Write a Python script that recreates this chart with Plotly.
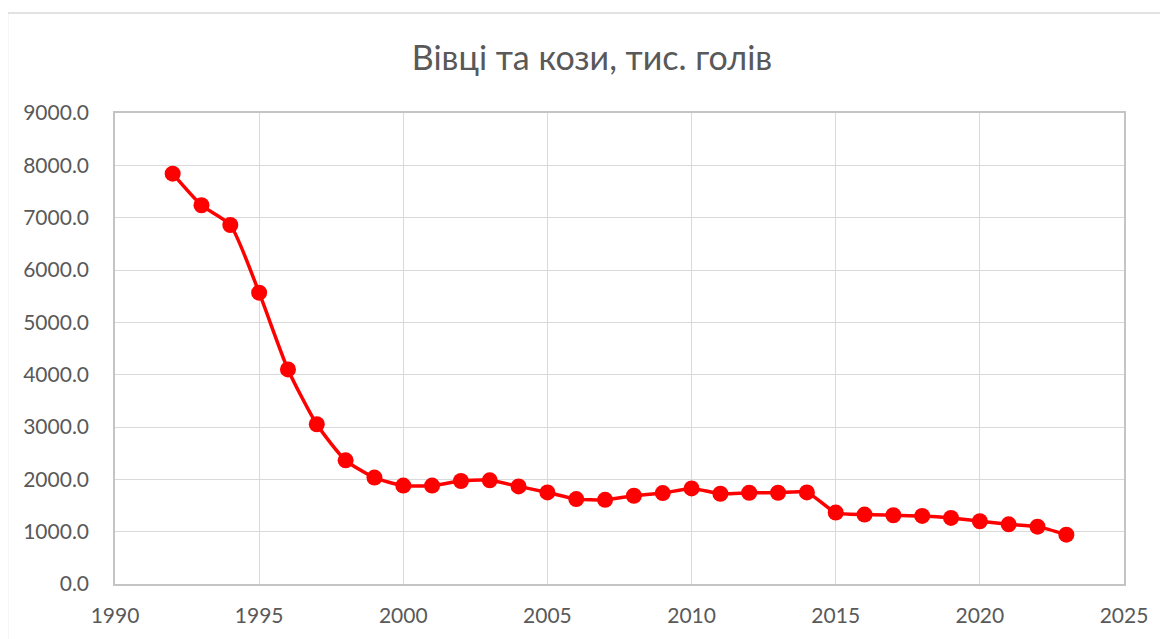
import plotly.graph_objects as go

years = list(range(1992, 2024))
values = [7840, 7237, 6860, 5566, 4100, 3052, 2363, 2033, 1880, 1880,
          1968, 1981, 1865, 1750, 1622, 1609, 1686, 1737, 1827, 1724,
          1744, 1744, 1750, 1365, 1327, 1314, 1301, 1263, 1199, 1141,
          1096, 942]
title_text = "Вівці та кози, тис. голів"

OFF = 8  # default page body margin
W, H = 1168 - OFF, 639 - OFF
L, R, T, B = 115 - OFF, 1124 - OFF, 113 - OFF, 584 - OFF

fig = go.Figure()
fig.add_trace(go.Scatter(
    x=years, y=values, mode="lines+markers",
    line=dict(color="#ff0000", width=3.5, shape="spline", smoothing=0.6),
    marker=dict(color="#ff0000", size=16),
    showlegend=False, hoverinfo="x+y",
))

font_family = "Lato, 'Open Sans', sans-serif"
pw, ph = R - L, B - T

fig.update_layout(
    width=W, height=H,
    margin=dict(l=L, r=W - R, t=T, b=H - B),
    paper_bgcolor="white", plot_bgcolor="white",
    title=dict(text=title_text, x=(592 - OFF) / W, xanchor="center",
               y=1 - (58 - OFF) / H, yanchor="middle",
               xref="container", yref="container",
               font=dict(family=font_family, size=34, color="#595959")),
    xaxis=dict(range=[1990, 2025], dtick=5, tick0=1990,
               showgrid=True, gridcolor="#d9d9d9", gridwidth=1.3,
               showline=True, linecolor="#c4c4c4", linewidth=1.5, mirror=True,
               zeroline=False, ticks="", ticklabelstandoff=12,
               tickfont=dict(family=font_family, size=21, color="#595959")),
    yaxis=dict(range=[0, 9000], dtick=1000, tickformat=".1f",
               showgrid=True, gridcolor="#d9d9d9", gridwidth=1.3,
               showline=True, linecolor="#c4c4c4", linewidth=1.5, mirror=True,
               zeroline=False, ticks="", ticklabelstandoff=20,
               tickfont=dict(family=font_family, size=21, color="#595959")),
    shapes=[dict(type="rect", xref="paper", yref="paper",
                 x0=(7 - OFF + 0.5 - L) / pw, x1=(W + 10 - L) / pw,
                 y0=(B - (H + 10)) / ph, y1=(B - (13 - OFF)) / ph,
                 line=dict(color="#d9d9d9", width=1.5), layer="below")],
)

fig.write_html("out.html")
